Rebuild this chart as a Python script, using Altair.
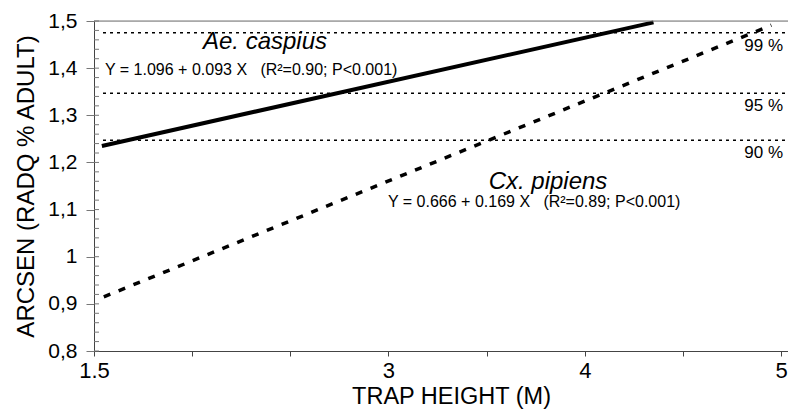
import altair as alt
import pandas as pd

# ---- data ----
ae_x = [1.54, 4.35]
ae_y = [1.235, 1.497]
cx_x = [1.55, 4.95]
cx_y = [0.915, 1.491]
thr_y = [1.475, 1.347, 1.247]
thr_lab = ["99 %", "95 %", "90 %"]
x_ticks = [1.5, 2, 2.5, 3, 3.5, 4, 4.5, 5]
x_labeled = [1.5, 3, 4, 5]
y_ticks = [0.8, 0.9, 1.0, 1.1, 1.2, 1.3, 1.4, 1.5]
y_minor = [round(0.8 + 0.02 * i, 2) for i in range(36)]
species = ["Ae. caspius", "Cx. pipiens"]
NB = "\u00a0"
equations = ["Y = 1.096 + 0.093 X" + NB * 3 + "(R\u00b2=0.90; P<0.001)",
             "Y = 0.666 + 0.169 X" + NB * 3 + "(R\u00b2=0.89; P<0.001)"]

W, H = 694, 330
FONT = "Liberation Sans"
AX = "#444444"

xs = alt.Scale(domain=[1.5, 5.035], nice=False, zero=False)
ys = alt.Scale(domain=[0.8, 1.5], nice=False, zero=False)

x_axis = alt.Axis(values=x_ticks,
                  labelExpr="indexof(%s, datum.value) >= 0 ? (datum.value == 1.5 ? '1.5' : format(datum.value, 'd')) : ''" % str(x_labeled),
                  grid=False, tickSize=5, tickColor=AX, domainColor=AX, labelFlush=False,
                  labelFont=FONT, labelFontSize=22, labelColor="black", labelPadding=4,
                  labelOverlap=False,
                  title="TRAP HEIGHT (M)", titleFont=FONT, titleFontSize=23.5,
                  titleFontWeight="normal", titleColor="black",
                  titleX=357, titleY=52, titleAlign="center", titleBaseline="alphabetic")
y_axis = alt.Axis(values=y_ticks,
                  labelExpr="replace(format(datum.value, '.1~f'), '.', ',')",
                  grid=False, tickSize=8, tickColor="#777777", domainColor=AX, labelFlush=False,
                  labelFont=FONT, labelFontSize=21, labelColor="black", labelPadding=9,
                  labelBaseline="middle",
                  title="ARCSEN (RADQ % ADULT)", titleFont=FONT, titleFontSize=24,
                  titleFontWeight="normal", titleColor="black", titleAngle=-90,
                  titleX=-61, titleY=H / 2, titleAlign="center", titleBaseline="alphabetic")

X = lambda f: alt.X(f, scale=xs, axis=x_axis)
Y = lambda f: alt.Y(f, scale=ys, axis=y_axis)

ae_df = pd.DataFrame({"x": ae_x, "y": ae_y})
cx_df = pd.DataFrame({"x": cx_x, "y": cx_y})
thr_df = pd.DataFrame({"y": thr_y, "lab": thr_lab})
minor_df = pd.DataFrame({"y": y_minor})

ae_line = alt.Chart(ae_df).mark_line(color="black", strokeWidth=4, strokeCap="butt").encode(
    x=X("x:Q"), y=Y("y:Q"))

cx_line = alt.Chart(cx_df).mark_line(color="black", strokeWidth=3.5, strokeDash=[7, 9],
                                     strokeCap="butt").encode(
    x=X("x:Q"), y=Y("y:Q"))

thr_rule = alt.Chart(thr_df).mark_rule(color="black", strokeWidth=1.5, strokeDash=[3, 4]).encode(
    y=Y("y:Q"), x=alt.value(9), x2=alt.value(W))

thr_text = alt.Chart(thr_df).mark_text(align="right", baseline="middle", dy=13, font=FONT,
                                       fontSize=17, color="black").encode(
    y=Y("y:Q"), x=alt.value(689), text="lab:N")

minor = alt.Chart(minor_df).mark_rule(color="#777777", strokeWidth=1).encode(
    y=Y("y:Q"), x=alt.value(0), x2=alt.value(5))

top = alt.Chart(pd.DataFrame({"a": [0]})).mark_rule(color="#777777", strokeWidth=1).encode(
    y=alt.value(0), x=alt.value(0), x2=alt.value(W))

def label(txt, px, py, size, italic=False, align="center"):
    return alt.Chart(pd.DataFrame({"t": [txt]})).mark_text(
        align=align, baseline="middle", font=FONT, fontSize=size,
        fontStyle="italic" if italic else "normal", color="black").encode(
        x=alt.value(px), y=alt.value(py), text="t:N")

texts = (label(species[0], 171, 21, 24, italic=True)
         + label(equations[0], 11, 49, 16, align="left")
         + label(species[1], 454, 161, 24, italic=True)
         + label(equations[1], 294, 181, 16, align="left"))

chart = alt.layer(ae_line, cx_line, top, minor, thr_rule, thr_text, texts).properties(
    width=W, height=H,
    autosize=alt.AutoSizeParams(type="none"),
    padding={"left": 86, "top": 13, "right": 0, "bottom": 58},
).configure_view(stroke=None).configure(background="white")

chart.save("out.html", embed_options={"renderer": "svg", "actions": False})
